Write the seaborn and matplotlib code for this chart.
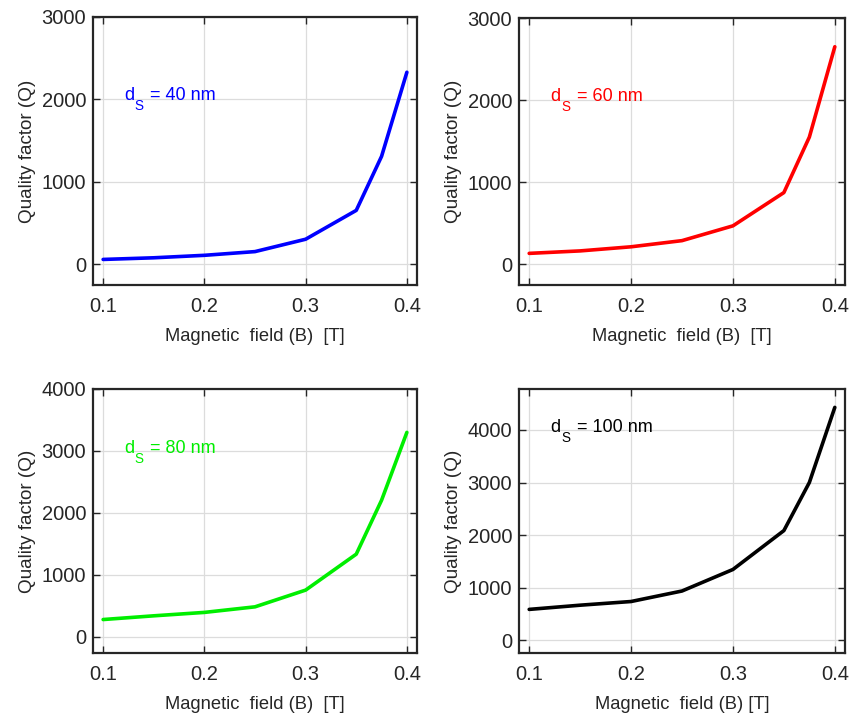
import numpy as np
import pandas as pd
import matplotlib
matplotlib.use("Agg")
import matplotlib.pyplot as plt
import seaborn as sns

# ---- data ----
B_field = [0.1, 0.15, 0.2, 0.25, 0.3, 0.35, 0.375, 0.4]
Q_40 = [60, 80, 110, 155, 305, 655, 1310, 2330]
Q_60 = [135, 165, 215, 290, 470, 875, 1550, 2650]
Q_80 = [280, 340, 395, 485, 755, 1335, 2205, 3300]
Q_100 = [585, 665, 735, 935, 1345, 2085, 3000, 4430]
thickness_labels = ["40", "60", "80", "100"]
line_colors = ["#0000ff", "#ff0000", "#00ee00", "#000000"]
xticks = [0.1, 0.2, 0.3, 0.4]
yticks_list = [[0, 1000, 2000, 3000], [0, 1000, 2000, 3000],
               [0, 1000, 2000, 3000, 4000], [0, 1000, 2000, 3000, 4000]]
ylims = [(-250, 3000), (-250, 3000), (-260, 4000), (-245, 4780)]
ann_y = [1990, 1990, 2968, 3968]
xlabels = ["Magnetic  field (B)  [T]", "Magnetic  field (B)  [T]",
           "Magnetic  field (B)  [T]", "Magnetic  field (B) [T]"]

sns.set_theme(style="whitegrid")
plt.rcParams['font.family'] = ['Liberation Sans', 'DejaVu Sans']

fig = plt.figure(figsize=(8.6, 7.16), dpi=100)
W, H = 860, 716
boxes = [(93, 17, 417, 285), (519, 18, 845, 285),
         (93, 389, 417, 653), (519, 389, 845, 653)]
series = [Q_40, Q_60, Q_80, Q_100]
txt = "#262626"
px = 72.0 / 100.0  # points per pixel

for i, (l, t, r, b) in enumerate(boxes):
    ax = fig.add_axes([l / W, 1 - b / H, (r - l) / W, (b - t) / H])
    df = pd.DataFrame({"B": B_field, "Q": series[i]})
    sns.lineplot(data=df, x="B", y="Q", ax=ax, color=line_colors[i],
                 linewidth=2.6, estimator=None, sort=False)
    ax.set_xlim(0.09, 0.41)
    ax.set_ylim(*ylims[i])
    ax.set_xticks(xticks)
    ax.set_xticklabels([f"{v:.1f}" for v in xticks])
    ax.set_yticks(yticks_list[i])
    ax.set_yticklabels([str(v) for v in yticks_list[i]])
    ax.set_xlabel(xlabels[i], fontsize=13.2, color=txt, labelpad=8)
    ax.set_ylabel("Quality factor (Q)", fontsize=13.6, color=txt, labelpad=4)
    ax.tick_params(axis='both', which='both', direction='in', length=5,
                   width=1.0, colors=txt, labelsize=14.5,
                   top=True, right=True, bottom=True, left=True)
    ax.tick_params(axis='x', pad=9)
    ax.tick_params(axis='y', pad=5)
    ax.grid(True, color="#dcdcdc", linewidth=0.9)
    ax.set_facecolor("white")
    for s in ax.spines.values():
        s.set_visible(True)
        s.set_color(txt)
        s.set_linewidth(1.6)
    x0, y0 = 0.1205, ann_y[i]
    c = line_colors[i]
    ax.annotate("d", (x0, y0), xytext=(0, 0), textcoords="offset points",
                color=c, fontsize=13, va="baseline", ha="left")
    ax.annotate("S", (x0, y0), xytext=(11 * px, -10 * px), textcoords="offset points",
                color=c, fontsize=9.8, va="baseline", ha="left")
    ax.annotate("= " + thickness_labels[i] + " nm", (x0, y0),
                xytext=(26.5 * px, 0), textcoords="offset points",
                color=c, fontsize=13, va="baseline", ha="left")

fig.savefig("out.png", dpi=100, facecolor="white")
